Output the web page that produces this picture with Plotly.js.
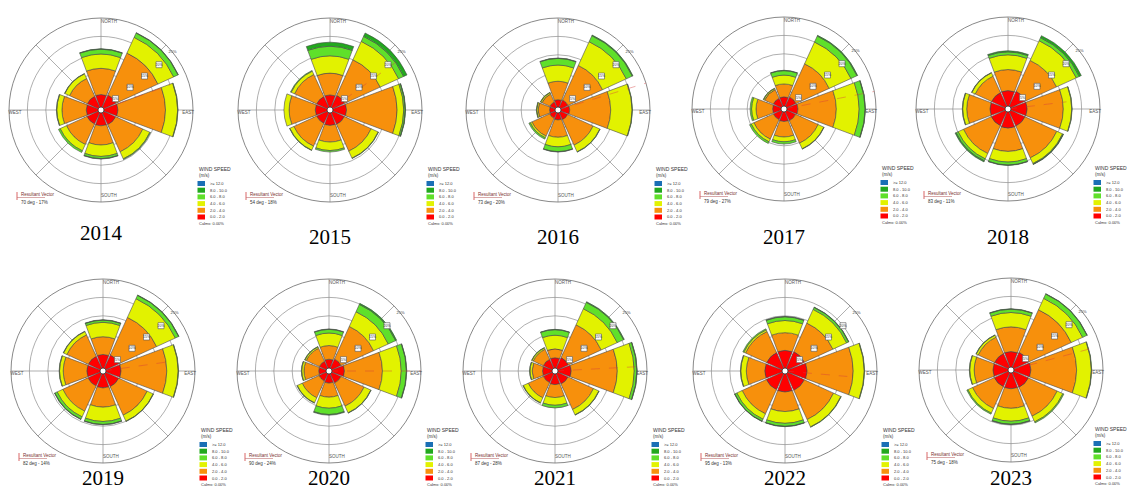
<!DOCTYPE html>
<html>
<head>
<meta charset="utf-8">
<script src="https://cdn.plot.ly/plotly-3.0.1.min.js"></script>
<style>
  html, body { margin: 0; padding: 0; background: #ffffff; }
  #chart { width: 1127px; height: 495px; }
</style>
</head>
<body>
<div id="chart"></div>
<script>
// Yearly wind roses: frequency (%) per direction sector, stacked by wind-speed class
const years = ['2014', '2015', '2016', '2017', '2018', '2019', '2020', '2021', '2022', '2023'];
const directions = [0, 45, 90, 135, 180, 225, 270, 315]; // N, NE, E, SE, S, SW, W, NW
const speedLabels = ['>= 12.0', '8.0 - 10.0', '6.0 - 8.0', '4.0 - 6.0', '2.0 - 4.0', '0.0 - 2.0'];
const speedColors = ['#1a6fb5', '#22a81e', '#5fe02a', '#e2f200', '#f7900c', '#ff0000'];

// 0.0 - 2.0 m/s
const speed_0_2 = [
  [4.2, 4.5, 4.6, 4.4, 4.3, 4.2, 4.0, 4.1],
  [4.1, 4.4, 4.5, 4.3, 4.2, 4.0, 4.0, 4.0],
  [2.8, 3.0, 3.2, 2.9, 2.7, 2.5, 2.3, 2.4],
  [3.3, 3.6, 3.8, 3.5, 3.4, 3.2, 3.1, 3.2],
  [5.0, 5.3, 5.2, 5.1, 5.2, 5.0, 4.9, 4.9],
  [4.5, 4.8, 4.9, 4.7, 4.6, 4.5, 4.4, 4.4],
  [3.2, 3.6, 4.2, 3.6, 3.3, 3.0, 2.8, 2.9],
  [3.6, 4.0, 4.4, 3.9, 3.7, 3.5, 3.4, 3.5],
  [5.6, 5.8, 6.0, 5.8, 5.7, 5.6, 5.5, 5.5],
  [5.0, 5.3, 5.4, 5.2, 5.1, 5.0, 4.9, 4.9]
];
// 2.0 - 4.0 m/s
const speed_2_4 = [
  [7.1, 12.5, 12.9, 8.1, 5.2, 6.1, 6.6, 5.3],
  [5.9, 10.6, 13.7, 8.0, 4.5, 6.8, 7.1, 6.6],
  [5.0, 10.3, 11.1, 7.6, 4.7, 5.3, 3.1, 2.4],
  [3.5, 9.9, 10.4, 6.7, 4.2, 5.8, 4.5, 2.6],
  [5.7, 9.2, 9.8, 9.5, 6.3, 8.3, 6.3, 4.9],
  [4.8, 11.2, 12.4, 8.5, 5.2, 7.5, 6.4, 6.4],
  [3.7, 9.7, 10.3, 6.9, 3.8, 5.0, 4.0, 3.9],
  [2.4, 9.8, 12.5, 7.6, 3.5, 4.5, 2.8, 3.0],
  [4.8, 8.5, 12.5, 8.7, 5.3, 7.2, 5.0, 6.3],
  [6.7, 12.7, 12.4, 8.6, 5.3, 6.5, 5.1, 4.9]
];
// 4.0 - 6.0 m/s
const speed_4_6 = [
  [3.9, 4.7, 3.3, 2.1, 3.1, 1.9, 1.4, 1.4],
  [4.7, 5.5, 1.8, 2.1, 2.3, 1.2, 1.4, 1.0],
  [4.4, 7.1, 5.8, 2.0, 2.6, 0.5, 0.4, 0.4],
  [2.4, 6.5, 6.2, 1.7, 1.3, 0.8, 1.2, 0.3],
  [4.0, 5.9, 2.3, 1.7, 2.9, 1.6, 1.1, 1.0],
  [3.9, 5.6, 3.1, 1.8, 3.9, 1.7, 1.0, 1.0],
  [3.4, 4.4, 5.1, 2.0, 3.0, 1.5, 0.6, 0.4],
  [3.7, 4.8, 4.6, 1.6, 2.1, 1.5, 0.6, 0.4],
  [3.3, 4.1, 3.0, 2.2, 3.2, 1.6, 1.5, 0.5],
  [3.9, 3.4, 4.0, 1.7, 3.5, 1.4, 1.2, 0.6]
];
// 6.0 - 8.0 m/s
const speed_6_8 = [
  [1.3, 1.3, 0.1, 0.2, 0.6, 0.5, 0.1, 0.1],
  [2.6, 1.5, 0.4, 0.1, 0.4, 0.1, 0.0, 0.2],
  [1.8, 1.8, 0.1, 0.1, 1.3, 0.4, 0.1, 0.1],
  [1.2, 1.8, 1.6, 0.1, 0.6, 0.5, 0.4, 0.1],
  [0.8, 0.9, 0.1, 0.2, 0.8, 0.6, 0.1, 0.1],
  [0.6, 1.0, 0.1, 0.1, 0.8, 0.7, 0.1, 0.1],
  [1.0, 2.2, 1.4, 0.1, 1.7, 0.1, 0.1, 0.1],
  [1.5, 1.9, 0.7, 0.1, 0.7, 0.1, 0.1, 0.1],
  [1.0, 0.6, 0.1, 0.1, 0.8, 0.6, 0.1, 0.3],
  [0.9, 1.3, 0.1, 0.3, 0.8, 0.3, 0.1, 0.1]
];
// 8.0 - 10.0 m/s
const speed_8_10 = [
  [0.1, 0.1, 0.0, 0.0, 0.1, 0.0, 0.0, 0.0],
  [1.1, 1.0, 0.1, 0.0, 0.0, 0.0, 0.0, 0.0],
  [0.1, 0.2, 0.0, 0.0, 0.1, 0.0, 0.0, 0.0],
  [0.1, 0.2, 0.1, 0.0, 0.0, 0.0, 0.0, 0.0],
  [0.3, 0.6, 0.0, 0.1, 0.1, 0.3, 0.0, 0.0],
  [0.1, 0.1, 0.0, 0.0, 0.1, 0.1, 0.0, 0.0],
  [0.1, 0.3, 0.1, 0.0, 0.2, 0.0, 0.0, 0.0],
  [0.1, 0.2, 0.1, 0.0, 0.0, 0.0, 0.0, 0.0],
  [0.1, 0.1, 0.0, 0.0, 0.1, 0.1, 0.0, 0.0],
  [0.1, 0.1, 0.0, 0.0, 0.1, 0.0, 0.0, 0.0]
];
// >= 12.0 m/s
const speed_12_up = [
  [0, 0, 0, 0, 0, 0, 0, 0], [0, 0, 0, 0, 0, 0, 0, 0],
  [0, 0, 0, 0, 0, 0, 0, 0], [0, 0, 0, 0, 0, 0, 0, 0],
  [0, 0, 0, 0, 0, 0, 0, 0], [0, 0, 0, 0, 0, 0, 0, 0],
  [0, 0, 0, 0, 0, 0, 0, 0], [0, 0, 0, 0, 0, 0, 0, 0],
  [0, 0, 0, 0, 0, 0, 0, 0], [0, 0, 0, 0, 0, 0, 0, 0]
];

// Resultant vector per year: direction (deg), strength text, and drawn reach (%)
const resultantDeg = [70, 54, 73, 79, 83, 82, 90, 87, 95, 75];
const resultantText = ['70 deg - 17%', '54 deg - 18%', '73 deg - 20%', '79 deg - 27%', '83 deg - 11%',
                       '82 deg - 14%', '90 deg - 24%', '87 deg - 28%', '95 deg - 13%', '75 deg - 18%'];
const resultantReach = [20, 22, 26, 26, 16, 17, 25, 23, 17, 22.5];
const calmsText = 'Calms: 0.00%';

const ringValues = [5, 10, 15, 20];
const ringLabels = ['5%', '10%', '15%', '20%'];
const compassLabels = ['NORTH', 'EAST', 'SOUTH', 'WEST'];

// ---- layout of the ten panels (pixel centres on the 1127 x 495 page) ----
const W = 1127, H = 495, R = 92;
const centres = [[101, 110], [330, 110], [558, 110], [784, 109], [1008, 109],
                 [103, 371], [329, 371], [555, 371], [785, 371], [1011, 370]];
const yearY = [233, 237, 237, 237, 237, 478, 478, 478, 478, 478];

const px = x => x / W;
const py = y => 1 - y / H;

const classSeries = [speed_0_2, speed_2_4, speed_4_6, speed_6_8, speed_8_10, speed_12_up];
const classColors = speedColors.slice().reverse();

const data = [];
const layout = {
  width: W, height: H,
  margin: { l: 0, r: 0, t: 0, b: 0 },
  paper_bgcolor: '#ffffff',
  showlegend: false,
  annotations: [],
  shapes: []
};

const gridCol = '#8c8c8c';
const smallFont = 'Liberation Sans, Arial, sans-serif';

years.forEach((yr, i) => {
  const pid = i === 0 ? 'polar' : 'polar' + (i + 1);
  const [cx, cy] = centres[i];

  layout[pid] = {
    domain: { x: [px(cx - R), px(cx + R)], y: [py(cy + R), py(cy - R)] },
    bgcolor: '#ffffff',
    barmode: 'stack',
    radialaxis: {
      range: [0, 25], tickvals: ringValues, showticklabels: false, ticks: '',
      showline: false, gridcolor: gridCol, gridwidth: 0.7, layer: 'below traces'
    },
    angularaxis: {
      direction: 'clockwise', rotation: 90, dtick: 45, showticklabels: false, ticks: '',
      gridcolor: gridCol, gridwidth: 0.7, linecolor: '#7a7a7a', linewidth: 0.9,
      layer: 'below traces'
    }
  };

  // stacked sectors, calm-to-strong from the centre outwards
  classSeries.forEach((series, k) => {
    if (series[i].every(v => v === 0)) return;
    data.push({
      type: 'barpolar', subplot: pid,
      r: series[i], theta: directions, width: 41,
      marker: { color: classColors[k], line: { color: '#4a4a4a', width: 0.6 } },
      hoverinfo: 'skip'
    });
  });

  // resultant vector
  data.push({
    type: 'scatterpolar', subplot: pid, mode: 'lines',
    r: [0, resultantReach[i]], theta: [resultantDeg[i], resultantDeg[i]],
    line: { color: 'rgba(215,60,60,0.6)', width: 0.7, dash: 'dash' },
    hoverinfo: 'skip'
  });

  // centre (calms) dot
  data.push({
    type: 'scatterpolar', subplot: pid, mode: 'markers',
    r: [0], theta: [0],
    marker: { size: 6, color: '#ffffff', line: { color: '#333333', width: 0.8 } },
    hoverinfo: 'skip'
  });

  // ring percentage labels
  data.push({
    type: 'scatterpolar', subplot: pid, mode: 'markers+text', cliponaxis: false,
    r: ringValues, theta: ringValues.map(() => 52),
    text: ringLabels, textposition: 'middle center',
    textfont: { size: 3.5, color: '#333333', family: smallFont },
    marker: { symbol: 'square', size: 6, color: '#ffffff', line: { color: '#555555', width: 0.6 } },
    hoverinfo: 'skip'
  });
  data.push({
    type: 'scatterpolar', subplot: pid, mode: 'text', cliponaxis: false,
    r: [25], theta: [51], text: ['25%'], textposition: 'middle center',
    textfont: { size: 4, color: '#444444', family: smallFont },
    hoverinfo: 'skip'
  });

  // compass labels just inside the rim
  data.push({
    type: 'scatterpolar', subplot: pid, mode: 'text', cliponaxis: false,
    r: [23.9, 23.7, 23.4, 23.4], theta: [0, 92, 180, 268],
    text: compassLabels,
    textposition: ['middle right', 'middle center', 'middle right', 'middle center'],
    textfont: { size: 4.5, color: '#555555', family: smallFont },
    hoverinfo: 'skip'
  });

  // wind-speed legend (kept on the page for the right-hand column)
  const L = Math.min(cx + 96, W - 34);
  layout.annotations.push(
    { text: 'WIND SPEED', x: px(L), y: py(cy + 59), xref: 'paper', yref: 'paper',
      xanchor: 'left', yanchor: 'middle', showarrow: false,
      font: { size: 5, color: '#333333', family: smallFont } },
    { text: '(m/s)', x: px(L), y: py(cy + 65), xref: 'paper', yref: 'paper',
      xanchor: 'left', yanchor: 'middle', showarrow: false,
      font: { size: 4.5, color: '#333333', family: smallFont } },
    { text: calmsText, x: px(L), y: py(cy + 113), xref: 'paper', yref: 'paper',
      xanchor: 'left', yanchor: 'middle', showarrow: false,
      font: { size: 4, color: '#333333', family: smallFont } }
  );
  speedLabels.forEach((lab, k) => {
    const top = cy + 71 + k * 6.7;
    layout.shapes.push({
      type: 'rect', xref: 'paper', yref: 'paper',
      x0: px(L + 0.5), x1: px(L + 8), y0: py(top + 5), y1: py(top),
      fillcolor: speedColors[k], line: { width: 0 }
    });
    layout.annotations.push({
      text: lab, x: px(L + 11), y: py(top + 2.5), xref: 'paper', yref: 'paper',
      xanchor: 'left', yanchor: 'middle', showarrow: false,
      font: { size: 4, color: '#333333', family: smallFont }
    });
  });

  // resultant vector caption
  const vx = cx - 84, vy = cy + 82;
  layout.shapes.push(
    { type: 'line', xref: 'paper', yref: 'paper', x0: px(vx), x1: px(vx), y0: py(vy), y1: py(vy + 8),
      line: { color: '#d04040', width: 0.8 } },
    { type: 'line', xref: 'paper', yref: 'paper', x0: px(vx), x1: px(vx + 28), y0: py(vy + 5.5), y1: py(vy + 5.5),
      line: { color: '#c07070', width: 0.6 } }
  );
  layout.annotations.push(
    { text: 'Resultant Vector', x: px(vx + 2), y: py(vy + 2.5), xref: 'paper', yref: 'paper',
      xanchor: 'left', yanchor: 'middle', showarrow: false,
      font: { size: 4.5, color: '#7a3030', family: smallFont } },
    { text: resultantText[i], x: px(vx + 2), y: py(vy + 10.5), xref: 'paper', yref: 'paper',
      xanchor: 'left', yanchor: 'middle', showarrow: false,
      font: { size: 4.5, color: '#333333', family: smallFont } }
  );

  // year caption
  layout.annotations.push({
    text: yr, x: px(cx), y: py(yearY[i]), xref: 'paper', yref: 'paper',
    xanchor: 'center', yanchor: 'middle', showarrow: false,
    font: { size: 21, color: '#000000', family: 'Liberation Serif, Times New Roman, serif' }
  });
});

Plotly.newPlot('chart', data, layout, { displayModeBar: false, staticPlot: true });
</script>
</body>
</html>
